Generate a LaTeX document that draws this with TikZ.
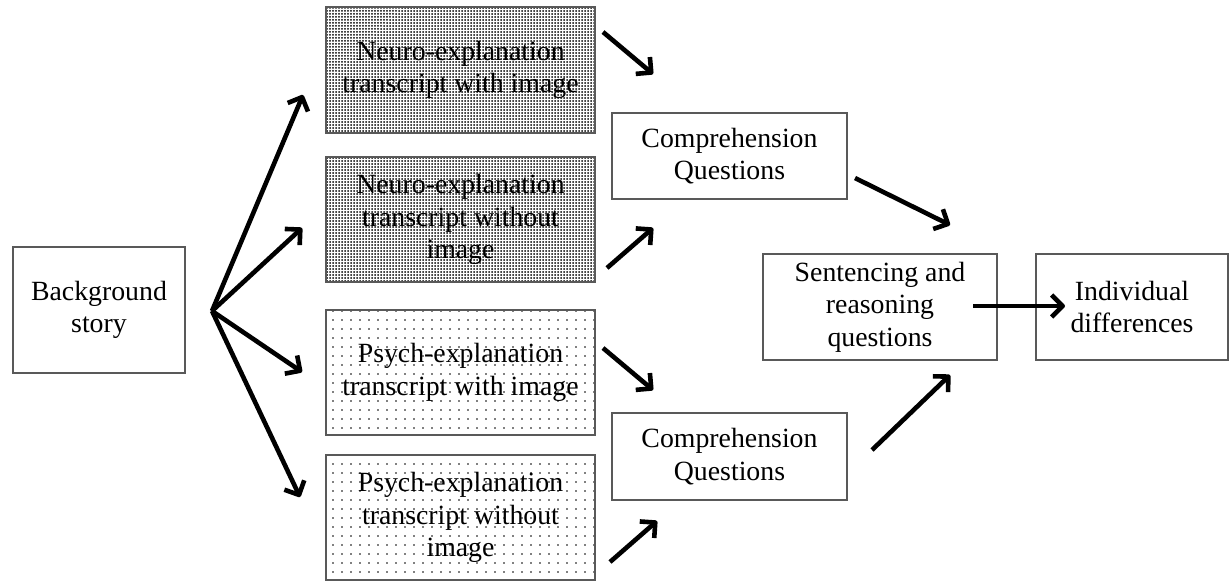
\documentclass[tikz,border=0pt]{standalone}
\usepackage{fontspec}
\setmainfont{Liberation Serif}
\usetikzlibrary{arrows.meta,patterns.meta}

\tikzset{
  box/.style={draw=black!65, line width=1.2pt, align=center, inner sep=0pt,
    font=\fontsize{27.8}{32.5}\selectfont},
  neurobox/.style={box, pattern={Dots[distance=3pt,radius=1pt]}, pattern color=black},
  psychbox/.style={box, pattern={Dots[distance=9pt,radius=0.8pt]}, pattern color=black},
  flow/.style={line width=4.6pt, line join=round,
    -{Straight Barb[length=11pt,width=22pt,line join=round]}}
}

\begin{document}
\begin{tikzpicture}[x=1pt,y=-1pt]
\useasboundingbox (0,0) rectangle (1230,581);

\node[box, minimum width=172pt, minimum height=126pt] (story) at (99,310) {Background\\story};

\node[neurobox, minimum width=269pt, minimum height=126pt] (neuroA) at (460.5,70)
  {Neuro-explanation\\transcript with image};
\node[neurobox, minimum width=269pt, minimum height=125pt] (neuroB) at (460.5,219.5)
  {Neuro-explanation\\transcript without\\image};
\node[psychbox, minimum width=269pt, minimum height=125pt] (psychA) at (460.5,372.5)
  {Psych-explanation\\transcript with image};
\node[psychbox, minimum width=269pt, minimum height=125pt] (psychB) at (460.5,517.5)
  {Psych-explanation\\transcript without\\image};

\node[box, minimum width=235pt, minimum height=86pt] (compA) at (729.5,156)
  {Comprehension\\Questions};
\node[box, minimum width=235pt, minimum height=87pt] (compB) at (729.5,456.5)
  {Comprehension\\Questions};

\node[box, minimum width=234pt, minimum height=106pt] (sent) at (880,307)
  {Sentencing and\\reasoning\\questions};
\node[box, minimum width=192pt, minimum height=106pt] (indiv) at (1132,307)
  {Individual\\differences};

% arrow ends
\coordinate (fan) at (212,311);
\coordinate (toNA) at (303,95);
\coordinate (toNB) at (302,228);
\coordinate (toPA) at (302,372);
\coordinate (toPB) at (300,497);
\coordinate (fromNA) at (603,32);
\coordinate (inCA1) at (653,74);
\coordinate (fromNB) at (607,268);
\coordinate (inCA2) at (653,228);
\coordinate (fromPA) at (603,348);
\coordinate (inCB1) at (653,390);
\coordinate (fromPB) at (610,562);
\coordinate (inCB2) at (657,521);
\coordinate (fromCA) at (855,178);
\coordinate (inS1) at (950,225);
\coordinate (fromCB) at (872,450);
\coordinate (inS2) at (950,375);
\coordinate (fromS) at (973,306);
\coordinate (inI) at (1065,306);

\foreach \t in {toNA,toNB,toPA,toPB}
  \draw[flow] (fan) -- (\t);
\draw[flow] (fromNA) -- (inCA1);
\draw[flow] (fromNB) -- (inCA2);
\draw[flow] (fromPA) -- (inCB1);
\draw[flow] (fromPB) -- (inCB2);
\draw[flow] (fromCA) -- (inS1);
\draw[flow] (fromCB) -- (inS2);
\draw[flow] (fromS) -- (inI);
\end{tikzpicture}
\end{document}
